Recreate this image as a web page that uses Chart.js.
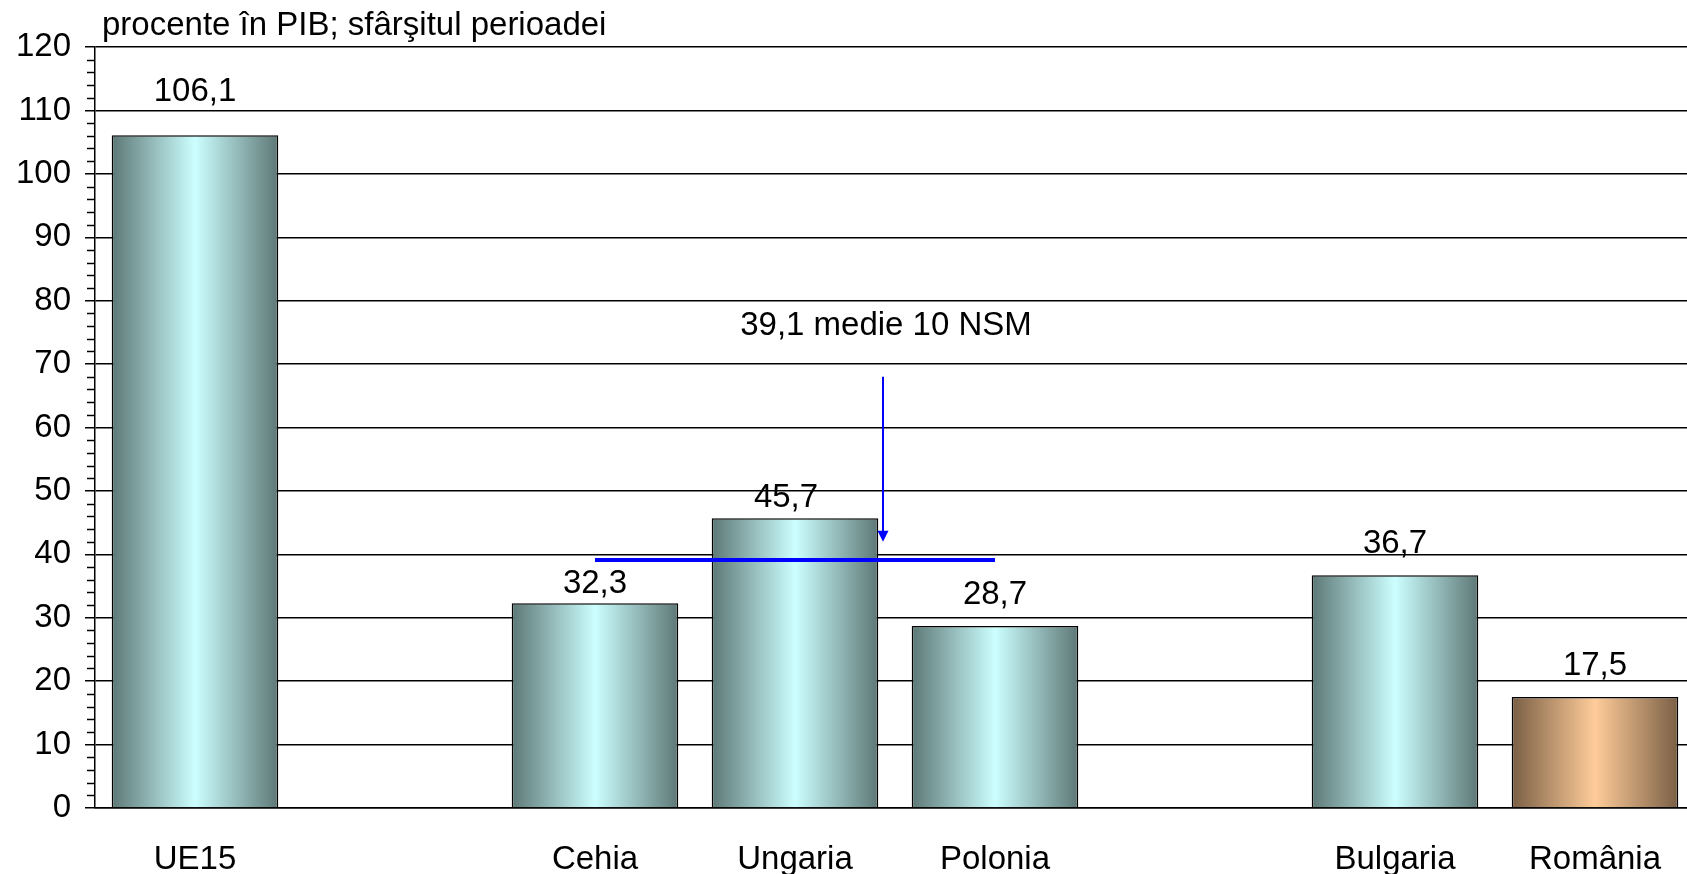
<!DOCTYPE html>
<html>
<head>
<meta charset="utf-8">
<script src="https://cdn.jsdelivr.net/npm/chart.js@4.4.1/dist/chart.umd.min.js"></script>
<style>
  html, body { margin: 0; padding: 0; background: #fff; overflow: hidden; }
  canvas { display: block; }
</style>
</head>
<body>
<canvas id="chart" width="1695" height="874"></canvas>
<script>
// data
const countries = ['UE15', '', 'Cehia', 'Ungaria', 'Polonia', '', 'Bulgaria', 'România'];
const debtShare = [106.1, null, 32.3, 45.7, 28.7, null, 36.7, 17.5];
const nsmAverage = [null, null, 39.1, 39.1, 39.1, null, null, null];
const unitNote = 'procente în PIB; sfârşitul perioadei';
const averageNote = '39,1 medie 10 NSM';
const highlighted = 'România';

// styling
const FONT = '"Liberation Sans", Arial, sans-serif';
const BAR_PCT = 0.833;
const tealStops = ['#5d7876', '#ccffff'];
const tanStops = ['#7a5f45', '#ffcc99'];
const labelLift = 31;
// hand nudges of some value labels, as in the original [dx, dy]
const labelNudge = { 0: [0, -12], 2: [0, 12], 3: [-9, 11] };
// where the arrow and the note sit (category index, value)
const arrowSpot = { index: 3.44, from: 68, to: 42 };
const noteSpot = { index: 3.455, value: 76 };

Chart.defaults.font.family = FONT;
Chart.defaults.color = '#000';

function barFill(ctx) {
  const chart = ctx.chart;
  const x = chart.scales.x;
  const stops = countries[ctx.dataIndex] === highlighted ? tanStops : tealStops;
  if (!chart.chartArea || !x) return stops[1];
  const step = x.getPixelForValue(1) - x.getPixelForValue(0);
  const c = x.getPixelForValue(ctx.dataIndex);
  const half = step * BAR_PCT / 2;
  const g = chart.ctx.createLinearGradient(c - half, 0, c + half, 0);
  g.addColorStop(0, stops[0]);
  g.addColorStop(0.5, stops[1]);
  g.addColorStop(1, stops[0]);
  return g;
}

const extras = {
  id: 'extras',
  beforeDatasetsDraw(chart) {
    // minor ticks on the value axis
    const { ctx, scales: { y }, chartArea } = chart;
    ctx.save();
    ctx.strokeStyle = '#000';
    ctx.lineWidth = 1.5;
    for (let v = 2; v < 120; v += 2) {
      if (v % 10 === 0) continue;
      const py = Math.round(y.getPixelForValue(v)) + 0.5;
      ctx.beginPath();
      ctx.moveTo(chartArea.left - 8, py);
      ctx.lineTo(chartArea.left, py);
      ctx.stroke();
    }
    ctx.restore();
  },
  afterDatasetsDraw(chart) {
    const { ctx, scales: { x, y } } = chart;
    ctx.save();
    // value labels
    ctx.font = '33px ' + FONT;
    ctx.fillStyle = '#000';
    ctx.textAlign = 'center';
    ctx.textBaseline = 'middle';
    chart.getDatasetMeta(1).data.forEach((el, i) => {
      const v = debtShare[i];
      if (v === null) return;
      const n = labelNudge[i] || [0, 0];
      ctx.fillText(v.toFixed(1).replace('.', ','), el.x + n[0], el.y - labelLift + n[1]);
    });

    // unit note above the plot
    ctx.textAlign = 'left';
    ctx.textBaseline = 'alphabetic';
    ctx.fillText(unitNote, chart.chartArea.left + 7, 35);

    // average note and arrow
    ctx.textAlign = 'center';
    ctx.textBaseline = 'middle';
    ctx.fillText(averageNote, x.getPixelForValue(noteSpot.index), y.getPixelForValue(noteSpot.value));

    const ax = x.getPixelForValue(arrowSpot.index);
    const y0 = y.getPixelForValue(arrowSpot.from);
    const y1 = y.getPixelForValue(arrowSpot.to);
    ctx.strokeStyle = '#0000ff';
    ctx.fillStyle = '#0000ff';
    ctx.lineWidth = 2;
    ctx.beginPath();
    ctx.moveTo(ax, y0);
    ctx.lineTo(ax, y1 - 9);
    ctx.stroke();
    ctx.beginPath();
    ctx.moveTo(ax - 5.5, y1 - 11);
    ctx.lineTo(ax + 5.5, y1 - 11);
    ctx.lineTo(ax, y1);
    ctx.closePath();
    ctx.fill();
    ctx.restore();
  }
};

new Chart(document.getElementById('chart'), {
  data: {
    labels: countries,
    datasets: [
      {
        type: 'line',
        data: nsmAverage,
        borderColor: '#0000ff',
        borderWidth: 4,
        pointRadius: 0,
        spanGaps: false,
        order: 0
      },
      {
        type: 'bar',
        data: debtShare,
        backgroundColor: barFill,
        borderColor: '#000',
        borderWidth: 1.5,
        barPercentage: BAR_PCT,
        categoryPercentage: 1,
        order: 1
      }
    ]
  },
  options: {
    responsive: false,
    animation: false,
    layout: { padding: { top: 47, right: 0, bottom: 0, left: 0 } },
    plugins: {
      legend: { display: false },
      tooltip: { enabled: false }
    },
    scales: {
      x: {
        offset: true,
        grid: { display: false, drawTicks: false },
        border: { display: true, color: '#000', width: 1.5 },
        ticks: { font: { size: 33 }, color: '#000', padding: 32, maxRotation: 0, autoSkip: false },
        afterFit(scale) { scale.height = 66; }
      },
      y: {
        min: 0,
        max: 120,
        ticks: { stepSize: 10, font: { size: 33 }, color: '#000', padding: 14 },
        grid: { color: '#000', lineWidth: 1.5, tickLength: 10 },
        border: { display: true, color: '#000', width: 1.5 },
        afterFit(scale) { scale.width = 95; }
      }
    }
  },
  plugins: [extras]
});
</script>
</body>
</html>
